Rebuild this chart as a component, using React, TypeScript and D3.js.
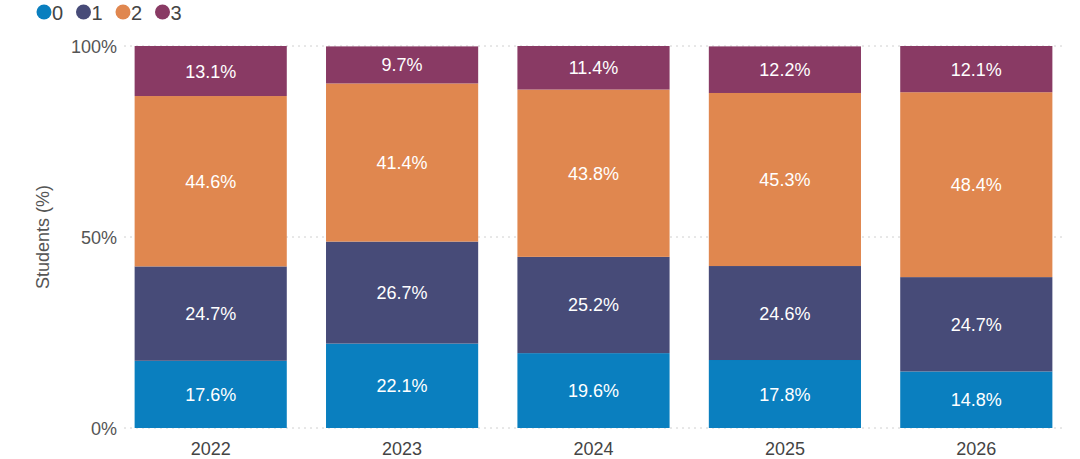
import React from "react";
import * as d3 from "d3";

const years = ["2022", "2023", "2024", "2025", "2026"];
const seriesKeys = ["0", "1", "2", "3"];
const share0 = [17.6, 22.1, 19.6, 17.8, 14.8];
const share1 = [24.7, 26.7, 25.2, 24.6, 24.7];
const share2 = [44.6, 41.4, 43.8, 45.3, 48.4];
const share3 = [13.1, 9.7, 11.4, 12.2, 12.1];
const yTicks = [0, 50, 100];
const colors = ["#0a7fbf", "#474b78", "#e0874f", "#893a64"];

const W = 1080;
const H = 459;
const font = "'Liberation Sans', Arial, sans-serif";

export default function App() {
  const rows = years.map((y, i) => ({
    year: y,
    "0": share0[i],
    "1": share1[i],
    "2": share2[i],
    "3": share3[i],
  }));
  const stacked = d3.stack().keys(seriesKeys)(rows as any);

  const x = d3.scaleBand().domain(years).range([115, 1072]).paddingInner(0.205).paddingOuter(0.1025);
  const y = d3.scaleLinear().domain([0, 100]).range([428, 46]);

  return (
    <svg width={W} height={H} style={{ position: "absolute", left: 0, top: 0, background: "#fff" }} fontFamily={font}>
      {/* legend */}
      {seriesKeys.map((k, i) => (
        <g key={k} transform={`translate(${44 + i * 39.5},12)`}>
          <circle r={7.5} fill={colors[i]} />
          <text x={8} y={7.5} fontSize={20} fill="#444">{k}</text>
        </g>
      ))}

      {/* grid */}
      {yTicks.map((t) => (
        <line key={t} x1={124} x2={1062} y1={y(t)} y2={y(t)} stroke="#d0d0d0" strokeDasharray="2,4" />
      ))}

      {/* bars */}
      {stacked.map((s, si) => (
        <g key={s.key}>
          {s.map((d, i) => {
            const y0 = y(d[0]);
            const y1 = y(d[1]);
            return (
              <g key={i}>
                <rect x={x(years[i])} y={y1} width={x.bandwidth()} height={y0 - y1} fill={colors[si]} />
                <text
                  x={x(years[i])! + x.bandwidth() / 2}
                  y={(y0 + y1) / 2 + 6.5}
                  textAnchor="middle"
                  fontSize={18}
                  fill="#fff"
                >
                  {(d[1] - d[0]).toFixed(1)}%
                </text>
              </g>
            );
          })}
        </g>
      ))}

      {/* y ticks */}
      {yTicks.map((t) => (
        <text key={t} x={117} y={y(t) + 6.5} textAnchor="end" fontSize={18} fill="#555">
          {t}%
        </text>
      ))}
      <text transform={`translate(49,${y(50)}) rotate(-90)`} textAnchor="middle" fontSize={18} fill="#555">
        Students (%)
      </text>

      {/* x ticks */}
      {years.map((yr) => (
        <text key={yr} x={x(yr)! + x.bandwidth() / 2} y={455} textAnchor="middle" fontSize={18} fill="#444">
          {yr}
        </text>
      ))}
    </svg>
  );
}
